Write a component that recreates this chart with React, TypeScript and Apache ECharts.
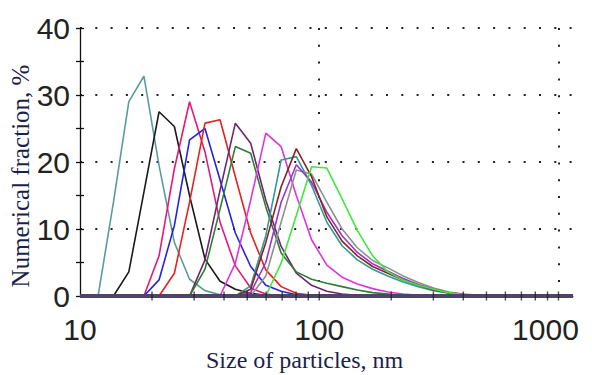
import React, { useEffect, useRef } from "react";
import * as echarts from "echarts";

// particle size bins, nm
const sizes = [
  10.3, 11.9, 13.8, 16.0, 18.5, 21.4, 24.8, 28.7, 33.3, 38.5, 44.6,
  51.7, 59.8, 69.3, 80.2, 92.9, 107.6, 124.6, 144.3, 167.1, 193.5, 224.1,
  259.5, 300.6, 348.1, 403.1, 466.8, 540.6, 626.0, 725.0, 839.5, 972.2, 1126,
];

// numerical fraction, %
const teal1 = [
  0, 0, 14, 29, 32.8, 19.5, 8, 2.5, 0.8, 0.2, 0,
  0, 0, 0, 0, 0, 0, 0, 0, 0, 0, 0,
  0, 0, 0, 0, 0, 0, 0, 0, 0, 0, 0,
];
const black = [
  0, 0, 0, 3.6, 15.5, 27.5, 25.3, 15, 5.5, 2.2, 1.0,
  0.4, 0.1, 0, 0, 0, 0, 0, 0, 0, 0, 0,
  0, 0, 0, 0, 0, 0, 0, 0, 0, 0, 0,
];
const pink = [
  0, 0, 0, 0, 0, 6, 19, 29, 21.5, 11, 4.5,
  1.2, 0.3, 0, 0, 0, 0, 0, 0, 0, 0, 0,
  0, 0, 0, 0, 0, 0, 0, 0, 0, 0, 0,
];
const blue = [
  0, 0, 0, 0, 0, 2.4, 10.5, 23.3, 25, 17.3, 9.4,
  4.4, 1.6, 0.7, 0.2, 0, 0, 0, 0, 0, 0, 0,
  0, 0, 0, 0, 0, 0, 0, 0, 0, 0, 0,
];
const red = [
  0, 0, 0, 0, 0, 0, 3.4, 14, 25.8, 26.3, 17.8,
  9.4, 3.9, 1.4, 0.4, 0.1, 0, 0, 0, 0, 0, 0,
  0, 0, 0, 0, 0, 0, 0, 0, 0, 0, 0,
];
const darkPurple = [
  0, 0, 0, 0, 0, 0, 0, 0, 5.4, 15.8, 25.8,
  22.8, 14.3, 7.4, 3.4, 1.6, 0.7, 0.3, 0.1, 0, 0, 0,
  0, 0, 0, 0, 0, 0, 0, 0, 0, 0, 0,
];
const darkGreen = [
  0, 0, 0, 0, 0, 0, 0, 0, 4, 13, 22.3,
  21.3, 13.3, 6.4, 3.6, 2.5, 1.9, 1.4, 0.9, 0.5, 0.3, 0.1,
  0, 0, 0, 0, 0, 0, 0, 0, 0, 0, 0,
];
const magenta = [
  0, 0, 0, 0, 0, 0, 0, 0, 0, 0, 4.9,
  14.3, 24.3, 22.3, 15, 8.4, 4.6, 2.8, 1.8, 1.1, 0.6, 0.3,
  0.1, 0, 0, 0, 0, 0, 0, 0, 0, 0, 0,
];
const teal2 = [
  0, 0, 0, 0, 0, 0, 0, 0, 0, 0, 0,
  1.5, 9, 20.3, 20.8, 16.5, 11, 7.5, 5.4, 4.0, 3.0, 2.1,
  1.4, 0.8, 0.4, 0.2, 0, 0, 0, 0, 0, 0, 0,
];
const brown = [
  0, 0, 0, 0, 0, 0, 0, 0, 0, 0, 0,
  1, 8, 16.3, 22, 17.8, 11.8, 8.2, 6, 4.4, 3.4, 2.4,
  1.6, 0.9, 0.5, 0.2, 0, 0, 0, 0, 0, 0, 0,
];
const violet = [
  0, 0, 0, 0, 0, 0, 0, 0, 0, 0, 0,
  0.5, 5, 14, 19.6, 17, 12.5, 9, 6.5, 4.8, 3.7, 2.6,
  1.7, 1.0, 0.5, 0.2, 0.1, 0, 0, 0, 0, 0, 0,
];
const gray = [
  0, 0, 0, 0, 0, 0, 0, 0, 0, 0, 0,
  0, 3, 11, 18.8, 18.2, 14, 10, 7.2, 5.3, 4.2, 3.0,
  2.0, 1.2, 0.6, 0.3, 0.1, 0, 0, 0, 0, 0, 0,
];
const lime = [
  0, 0, 0, 0, 0, 0, 0, 0, 0, 0, 0,
  0, 0, 4.9, 12, 19.3, 19.1, 14.5, 9.8, 6, 3.6, 2.4,
  1.6, 1.0, 0.5, 0.2, 0.1, 0, 0, 0, 0, 0, 0,
];

const yTicks = [0, 10, 20, 30, 40];
const xMajorTicks = [100, 1000];
const xMinorTicks = [20, 30, 40, 50, 60, 70, 80, 90, 200, 300, 400, 500, 600, 700, 800, 900];

const seriesDefs = [
  { name: "A", color: "#5a9c9c", values: teal1 },
  { name: "B", color: "#1a1a1a", values: black },
  { name: "C", color: "#e6177a", values: pink },
  { name: "D", color: "#2323e6", values: blue },
  { name: "E", color: "#e82020", values: red },
  { name: "F", color: "#6e2470", values: darkPurple },
  { name: "G", color: "#2e7d32", values: darkGreen },
  { name: "H", color: "#e033e0", values: magenta },
  { name: "I", color: "#2e9b9b", values: teal2 },
  { name: "J", color: "#8f8f8f", values: gray },
  { name: "K", color: "#9a35d0", values: violet },
  { name: "L", color: "#8b2323", values: brown },
  { name: "M", color: "#3ee83e", values: lime },
];

const dotColor = "#222";
const labelFont = '"Liberation Sans", Arial, sans-serif';
const titleFont = '"Liberation Serif", "Times New Roman", serif';

export default function App() {
  const ref = useRef<HTMLDivElement>(null);
  useEffect(() => {
    const chart = echarts.init(ref.current!, null, { renderer: "svg" });
    const lines = seriesDefs.map((d) => ({
      type: "line",
      name: d.name,
      data: d.values.map((v, i) => [sizes[i], v]),
      showSymbol: false,
      symbol: "none",
      silent: true,
      lineStyle: { color: d.color, width: 1.6 },
      itemStyle: { color: d.color },
      z: 3,
    }));
    const tickData = [
      ...xMinorTicks.map((t) => [t, 0]),
      ...xMajorTicks.map((t) => [t, 0]),
    ];
    chart.setOption({
      animation: false,
      backgroundColor: "#fff",
      grid: { left: 80, right: 19, top: 28, bottom: 79 },
      xAxis: {
        type: "log",
        logBase: 10,
        min: 10,
        max: 1150,
        axisLine: { show: true, lineStyle: { color: "#222", width: 1 } },
        axisTick: { show: false },
        axisLabel: {
          fontSize: 30,
          fontFamily: labelFont,
          color: "#222",
          margin: 18,
          formatter: (v: number) => {
            if (v === 10 || v === 100) return String(v);
            if (v === 1000) return "{r|1000}";
            return "";
          },
          rich: {
            r: { fontSize: 30, fontFamily: labelFont, color: "#222", padding: [0, 26, 0, 0] },
          },
        },
        splitLine: {
          show: true,
          showMinLine: false,
          showMaxLine: false,
          lineStyle: { color: dotColor, width: 2, type: [2, 14.8] },
        },
      },
      yAxis: [
        {
          type: "value",
          position: "left",
          min: yTicks[0],
          max: yTicks[yTicks.length - 1],
          interval: 10,
          axisLine: { show: true, lineStyle: { color: "#111", width: 1.3 } },
          axisTick: { show: true, inside: false, length: 4, lineStyle: { color: "#111", width: 1.3 } },
          minorTick: { show: true, splitNumber: 2, length: 4, lineStyle: { color: "#111", width: 1.3 } },
          axisLabel: { fontSize: 30, fontFamily: labelFont, color: "#222", margin: 10 },
          splitLine: {
            show: true,
            showMinLine: false,
            lineStyle: { color: dotColor, width: 2, type: [2, 13.3] },
          },
        },
        {
          type: "value",
          position: "left",
          min: yTicks[0],
          max: yTicks[yTicks.length - 1],
          interval: 10,
          axisLine: { show: false },
          axisTick: { show: true, inside: true, length: 4, lineStyle: { color: "#111", width: 1.3 } },
          minorTick: { show: true, splitNumber: 2, length: 4, lineStyle: { color: "#111", width: 1.3 } },
          axisLabel: { show: false },
          splitLine: { show: false },
        },
      ],
      series: [
        ...lines,
        {
          type: "scatter",
          name: "ticks",
          data: tickData,
          symbol: "rect",
          symbolSize: [1.4, 9],
          silent: true,
          itemStyle: { color: "#222" },
          z: 6,
          markLine: {
            silent: true,
            symbol: "none",
            label: { show: false },
            lineStyle: { color: "#4e4465", width: 4, type: "solid" },
            data: [{ yAxis: 0 }],
          },
        },
      ],
      graphic: [
        {
          type: "text",
          x: 206,
          y: 360,
          style: {
            text: "Size of particles, nm",
            font: `24px ${titleFont}`,
            fill: "#1b1f4d",
            align: "left",
            verticalAlign: "middle",
          },
        },
        {
          type: "text",
          x: 20,
          y: 176,
          rotation: Math.PI / 2,
          style: {
            text: "Numerical fraction, %",
            font: `25px ${titleFont}`,
            fill: "#1b1f4d",
            align: "center",
            verticalAlign: "middle",
          },
        },
      ],
    });
    return () => chart.dispose();
  }, []);
  return (
    <div
      ref={ref}
      style={{ position: "fixed", left: 0, top: 0, width: 592, height: 375, background: "#fff" }}
    />
  );
}
